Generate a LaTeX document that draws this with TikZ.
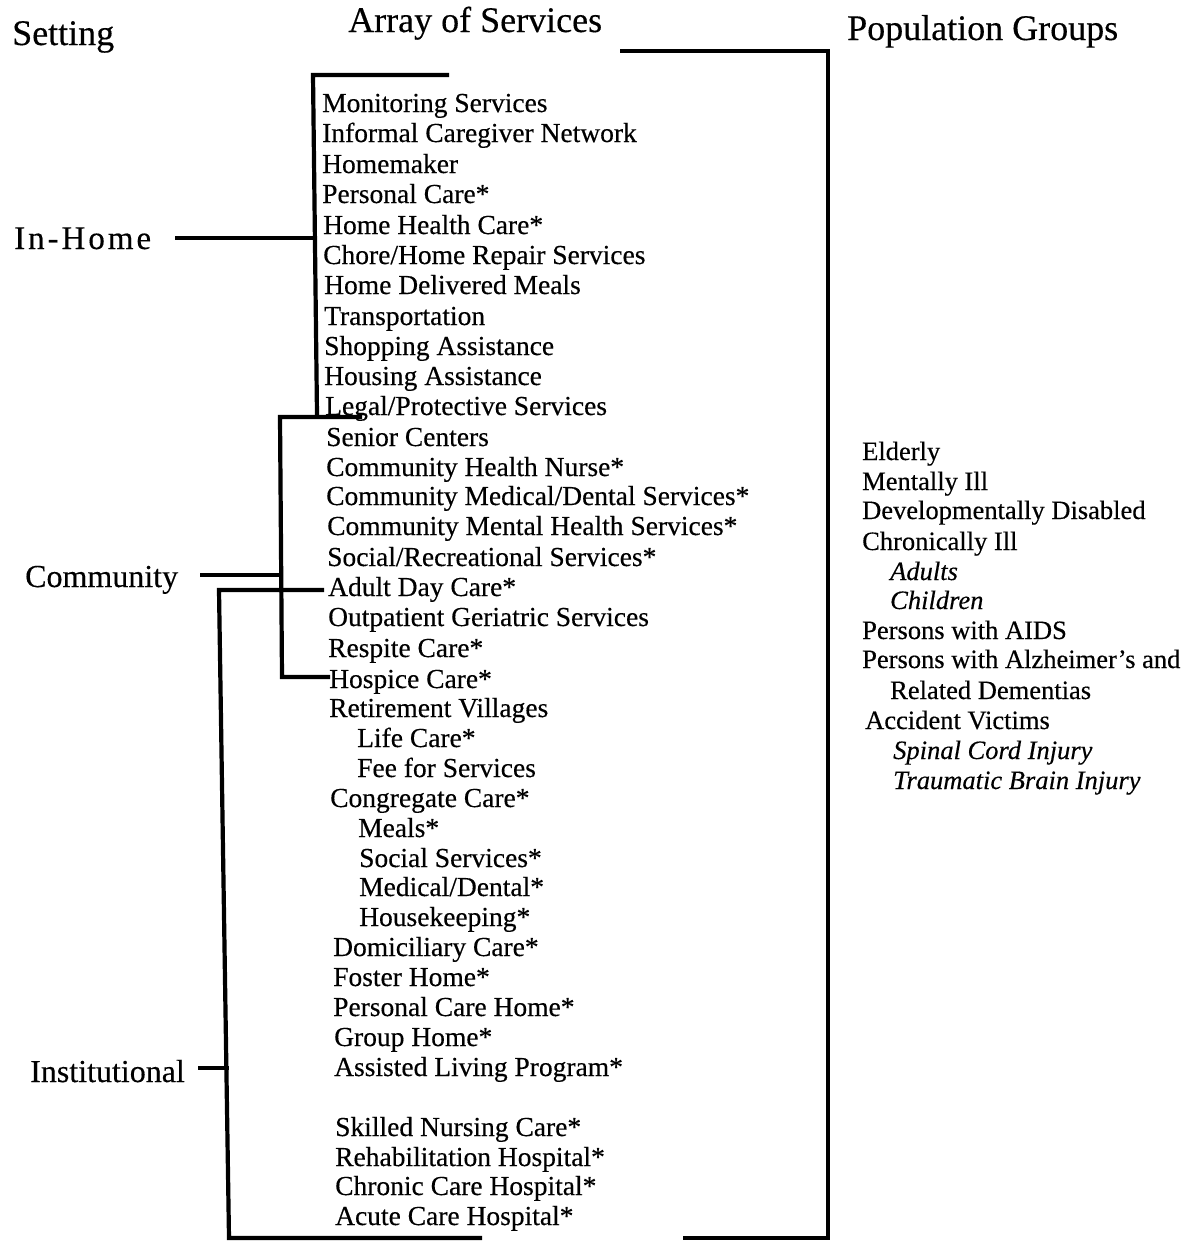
\documentclass[tikz,border=0pt]{standalone}
\usepackage{fontspec}
\setmainfont{Liberation Serif}[FakeBold=0.35]
\begin{document}
\begin{tikzpicture}[x=1pt,y=-1pt,
  svc/.style={anchor=base west, inner sep=0pt, font=\fontsize{27.5}{30}\selectfont},
  pop/.style={anchor=base west, inner sep=0pt, font=\fontsize{26.5}{30}\selectfont},
  popi/.style={pop, font=\fontsize{26.5}{30}\selectfont\itshape},
  hdr/.style={anchor=base west, inner sep=0pt, font=\fontsize{36}{40}\selectfont},
  setg/.style={anchor=base west, inner sep=0pt, font=\fontsize{32}{36}\selectfont},
  brk/.style={line width=4.2pt, line cap=rect, line join=miter}]
\useasboundingbox (0,0) rectangle (1204,1250);

% headers
\node[hdr] (hSet) at (12,45) {Setting};
\node[hdr] (hArr) at (348,32) {Array of Services};
\node[hdr] (hPop) at (847,40) {Population Groups};

% settings
\node[setg, font=\fontsize{33}{36}\selectfont] (ih) at (14,249) {\addfontfeature{LetterSpace=9}In-Home};
\node[setg] (cm) at (25,587) {Community};
\node[setg] (in) at (30,1082) {Institutional};

% services
\node[svc] (s1) at (322,112) {Monitoring Services};
\node[svc] (s2) at (322,142) {Informal Caregiver Network};
\node[svc] (s3) at (322,173) {Homemaker};
\node[svc] (s4) at (322,203) {Personal Care*};
\node[svc] (s5) at (323,234) {Home Health Care*};
\node[svc] (s6) at (323,264) {Chore/Home Repair Services};
\node[svc] (s7) at (324,294) {Home Delivered Meals};
\node[svc] (s8) at (324,325) {Transportation};
\node[svc] (s9) at (324,355) {Shopping Assistance};
\node[svc] (s10) at (324,385) {Housing Assistance};
\node[svc] (s11) at (325,415) {Legal/Protective Services};
\node[svc] (s12) at (326,446) {Senior Centers};
\node[svc] (s13) at (326,476) {Community Health Nurse*};
\node[svc] (s14) at (326,505) {Community Medical/Dental Services*};
\node[svc] (s15) at (327,535) {Community Mental Health Services*};
\node[svc] (s16) at (327,566) {Social/Recreational Services*};
\node[svc] (s17) at (328,596) {Adult Day Care*};
\node[svc] (s18) at (328,626) {Outpatient Geriatric Services};
\node[svc] (s19) at (328,657) {Respite Care*};
\node[svc] (s20) at (329,688) {Hospice Care*};
\node[svc] (s21) at (329,717) {Retirement Villages};
\node[svc] (s22) at (357,747) {Life Care*};
\node[svc] (s23) at (357,777) {Fee for Services};
\node[svc] (s24) at (330,807) {Congregate Care*};
\node[svc] (s25) at (358,837) {Meals*};
\node[svc] (s26) at (359,867) {Social Services*};
\node[svc] (s27) at (359,896) {Medical/Dental*};
\node[svc] (s28) at (359,926) {Housekeeping*};
\node[svc] (s29) at (333,956) {Domiciliary Care*};
\node[svc] (s30) at (333,986) {Foster Home*};
\node[svc] (s31) at (333,1016) {Personal Care Home*};
\node[svc] (s32) at (334,1046) {Group Home*};
\node[svc] (s33) at (334,1076) {Assisted Living Program*};
\node[svc] (s34) at (335,1136) {Skilled Nursing Care*};
\node[svc] (s35) at (335,1166) {Rehabilitation Hospital*};
\node[svc] (s36) at (335,1195) {Chronic Care Hospital*};
\node[svc] (s37) at (335,1225) {Acute Care Hospital*};

% population groups
\node[pop] (p1) at (862,460) {Elderly};
\node[pop] (p2) at (862,490) {Mentally Ill};
\node[pop] (p3) at (862,519) {Developmentally Disabled};
\node[pop] (p4) at (862,550) {Chronically Ill};
\node[popi] (p5) at (890,580) {Adults};
\node[popi] (p6) at (890,609) {Children};
\node[pop] (p7) at (862,639) {Persons with AIDS};
\node[pop] (p8) at (862,668) {Persons with Alzheimer's and};
\node[pop] (p9) at (890,699) {Related Dementias};
\node[pop] (p10) at (865,729) {Accident Victims};
\node[popi] (p11) at (893,759) {Spinal Cord Injury};
\node[popi] (p12) at (893,789) {Traumatic Brain Injury};

% bracket coordinates
\coordinate (ihL) at (177,238);
\coordinate (ihJ) at (314,238);
\coordinate (ihT) at (447,75);
\coordinate (ihTL) at (313,75);
\coordinate (ihB) at (317,415);

\coordinate (cmL) at (202,575);
\coordinate (cmJ) at (281,575);
\coordinate (cmT) at (360,417);
\coordinate (cmTL) at (280,417);
\coordinate (cmBL) at (282,677);
\coordinate (cmB) at (328,677);

\coordinate (inL) at (200,1068);
\coordinate (inJ) at (227,1068);
\coordinate (inT) at (322,590);
\coordinate (inTL) at (219,590);
\coordinate (inBL) at (229,1238);
\coordinate (inB) at (480,1238);

\coordinate (pT) at (622,51);
\coordinate (pTR) at (828,51);
\coordinate (pBR) at (828,1238);
\coordinate (pB) at (685,1238);

% brackets
\draw[brk] (ihT) -- (ihTL) -- (ihB);
\draw[brk] (ihL) -- (ihJ);
\draw[brk] (cmT) -- (cmTL) -- (cmBL) -- (cmB);
\draw[brk] (cmL) -- (cmJ);
\draw[brk] (inT) -- (inTL) -- (inBL) -- (inB);
\draw[brk] (inL) -- (inJ);
\draw[brk] (pT) -- (pTR) -- (pBR) -- (pB);
\end{tikzpicture}
\end{document}
